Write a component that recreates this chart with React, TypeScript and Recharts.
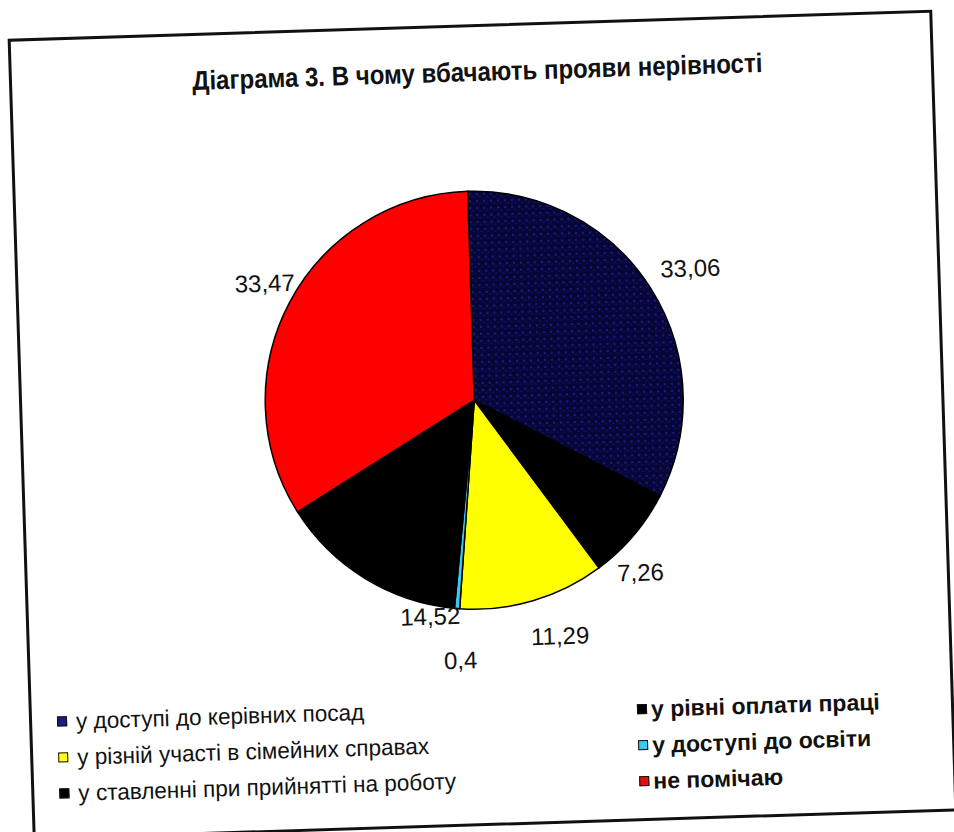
import React from 'react';
import { PieChart, Pie, Cell, Legend } from 'recharts';

const TITLE = 'Діаграма 3. В чому вбачають прояви нерівності';

const CATEGORIES = [
  'у доступі до керівних посад',
  'у рівні оплати праці',
  'у різній участі в сімейних справах',
  'у доступі до освіти',
  'у ставленні при прийнятті на роботу',
  'не помічаю',
];
const VALUES = [33.06, 7.26, 11.29, 0.4, 14.52, 33.47];
const LABELS = ['33,06', '7,26', '11,29', '0,4', '14,52', '33,47'];

const COLORS = ['url(#navySpeckle)', '#000000', '#ffff00', '#3cc8f0', '#000000', '#ff0000'];
const LEGEND_COLORS = ['#1c1c86', '#000000', '#ffff20', '#3cc8f0', '#000000', '#e01010'];

// excel pushed some labels away from the slice middle
const LABEL_NUDGE = [[9, -1], [-21, 13], [17, 1], [6, 16], [84, 10], [7, -2]];

const FONT = "'Liberation Sans', Arial, sans-serif";

const W = 925;
const H = 802;

const data = CATEGORIES.map((name, i) => ({ name, value: VALUES[i] }));

const RAD = Math.PI / 180;

const renderLabel = (props: any) => {
  const { cx, cy, midAngle, index } = props;
  const r = 245;
  const [dx, dy] = LABEL_NUDGE[index];
  const x = cx + r * Math.cos(-midAngle * RAD) + dx;
  const y = cy + r * Math.sin(-midAngle * RAD) + dy;
  return (
    <text x={x} y={y} fill="#111" textAnchor="middle" dominantBaseline="central"
      style={{ fontFamily: FONT, fontSize: 24 }}>
      {LABELS[index]}
    </text>
  );
};

const renderLegend = () => (
  <div style={{ position: 'relative', width: W, height: 0 }}>
    {CATEGORIES.map((name, i) => {
      const col = i % 2;
      const row = Math.floor(i / 2);
      const sx = col === 0 ? 33 : 613;
      const sy = (col === 0 ? 684 : 690) + row * 36;
      return (
        <div key={`leg-${i}`} style={{
          position: 'absolute', left: sx - 5, top: sy - H - 14, height: 28,
          display: 'flex', alignItems: 'center', whiteSpace: 'pre',
          fontFamily: FONT, fontSize: 23, color: '#111',
          fontWeight: col === 1 ? 'bold' : 'normal',
        }}>
          <span style={{
            display: 'inline-block', width: 10, height: 10, background: LEGEND_COLORS[i],
            border: '1.5px solid #111', boxSizing: 'border-box', marginRight: col === 0 ? 9 : 4,
          }} />
          <span style={{
            display: 'inline-block', transform: `scaleX(${col === 0 ? 0.98 : 1.0})`,
            transformOrigin: 'left center',
          }}>
            {name}
          </span>
        </div>
      );
    })}
  </div>
);

export default function App() {
  return (
    <div style={{ position: 'absolute', left: 0, top: 0, width: 954, height: 832, overflow: 'hidden', background: '#fff' }}>
      <div style={{
        position: 'absolute', left: 19.5, top: 24, width: W, height: H,
        border: '3px solid #111', boxSizing: 'border-box',
        transform: 'rotate(-1.8deg)', transformOrigin: 'center',
      }}>
        <div style={{ position: 'absolute', left: -3, top: -3, width: W, height: H }}>
          <div style={{
            position: 'absolute', left: 6, top: 32, width: W, textAlign: 'center',
            fontFamily: FONT, fontWeight: 'bold', fontSize: 27, color: '#111', lineHeight: '32px',
            whiteSpace: 'nowrap',
          }}>
            <span style={{ display: 'inline-block', transform: 'scaleX(0.89)', transformOrigin: 'center' }}>
              {TITLE}
            </span>
          </div>
          <PieChart width={W} height={H} margin={{ top: 0, right: 0, bottom: 0, left: 0 }}>
            <defs>
              <pattern id="navySpeckle" width="7" height="7" patternUnits="userSpaceOnUse">
                <rect width="7" height="7" fill="#07073a" />
                <rect x="1" y="1" width="2" height="2" fill="#1a1a8a" />
                <rect x="4" y="4" width="2" height="1" fill="#141470" />
                <rect x="5" y="0" width="1" height="2" fill="#030322" />
              </pattern>
            </defs>
            <Pie
              data={data}
              dataKey="value"
              nameKey="name"
              cx={455}
              cy={376}
              outerRadius={209}
              startAngle={90}
              endAngle={-270}
              stroke="#000"
              strokeWidth={1.5}
              labelLine={false}
              label={renderLabel}
              isAnimationActive={false}
            >
              {data.map((d, i) => (
                <Cell key={`cell-${i}`} fill={COLORS[i]} />
              ))}
            </Pie>
            <Legend verticalAlign="bottom" content={renderLegend}
              wrapperStyle={{ left: 0, bottom: 0, width: W, height: 0 }} />
          </PieChart>
        </div>
      </div>
    </div>
  );
}
